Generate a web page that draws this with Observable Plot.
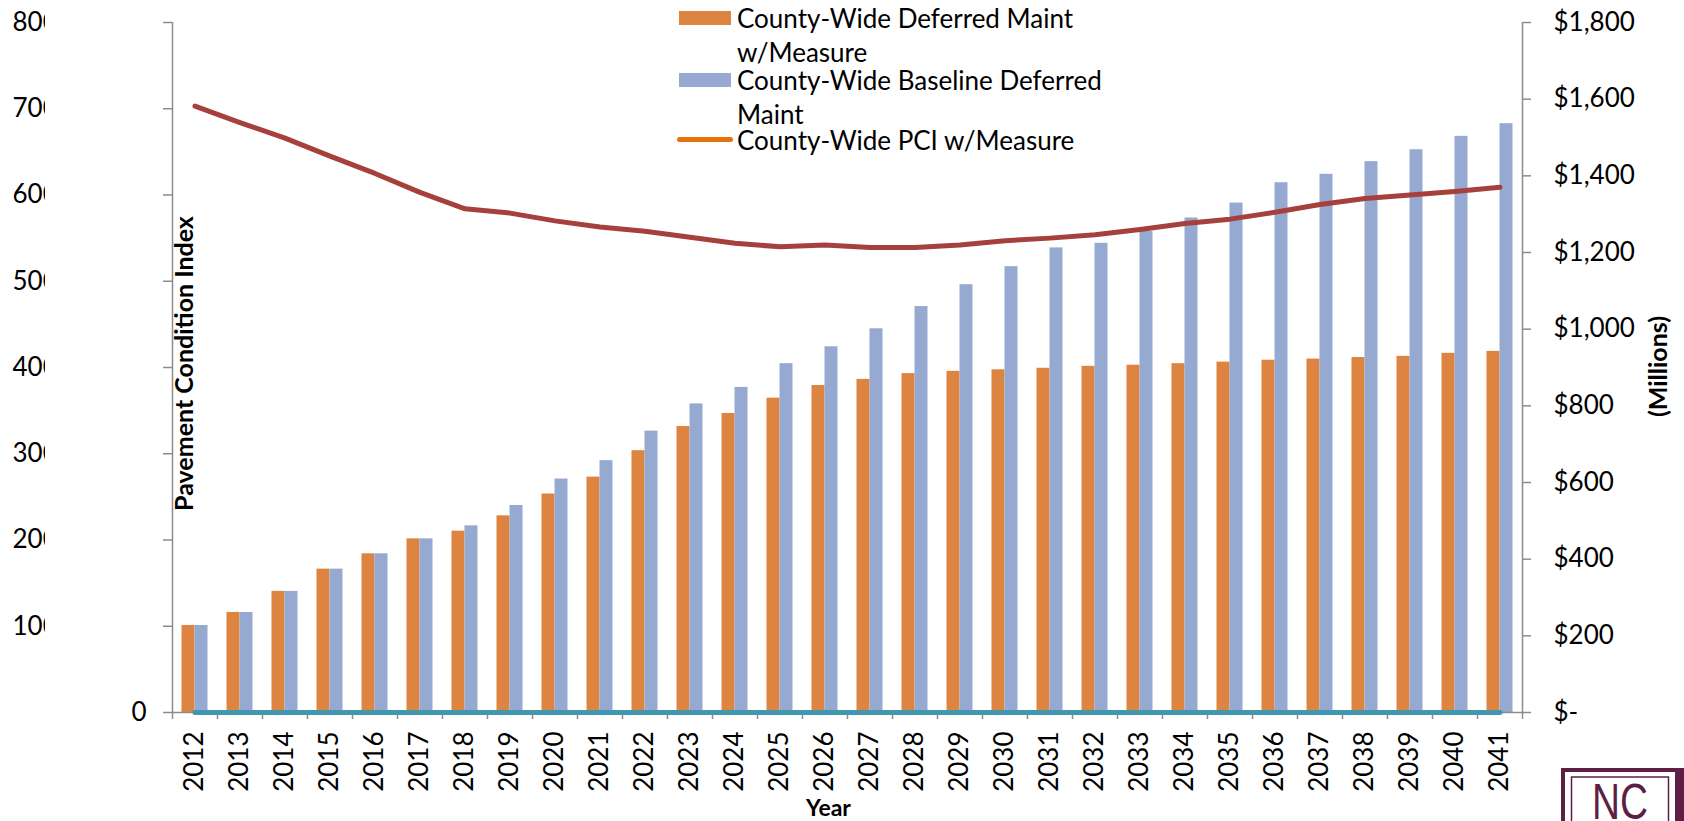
<!DOCTYPE html>
<html>
<head>
<meta charset="utf-8">
<script src="https://cdn.jsdelivr.net/npm/d3@7"></script>
<script src="https://cdn.jsdelivr.net/npm/@observablehq/plot@0.6"></script>
<style>
  html, body { margin: 0; padding: 0; background: #fff; }
  #wrap { position: relative; width: 1684px; height: 821px; overflow: hidden; font-family: Lato, "Open Sans", sans-serif; }
  #chart svg { display: block; }
  .leg { position: absolute; left: 677px; font-size: 26px; line-height: 34px; color: #000; }
  .leg .sw { position: absolute; left: 0; }
  .leg .tx { position: absolute; left: 60px; width: 400px; white-space: normal; }
  #logo { position: absolute; left: 1560px; top: 767px; }
</style>
</head>
<body>
<div id="wrap"><div id="chart"></div></div>
<script>
// ---------- data ----------
const years = ["2012","2013","2014","2015","2016","2017","2018","2019","2020","2021",
               "2022","2023","2024","2025","2026","2027","2028","2029","2030","2031",
               "2032","2033","2034","2035","2036","2037","2038","2039","2040","2041"];
// $ millions
const deferredWithMeasure = [227,261,316,374,414,453,473,513,570,614,
                             683,746,780,820,853,869,884,890,894,898,
                             903,906,910,914,919,922,926,929,937,942];
const baselineDeferred    = [227,261,316,374,414,453,487,540,609,657,
                             734,805,848,910,954,1001,1059,1116,1163,1212,
                             1224,1255,1290,1329,1382,1404,1437,1468,1503,1536];
// Pavement Condition Index (left axis)
const pciLine = [70.3,68.4,66.6,64.5,62.5,60.3,58.4,57.9,57.0,56.3,
                 55.8,55.1,54.4,54.0,54.2,53.9,53.9,54.2,54.7,55.0,
                 55.4,56.0,56.7,57.2,58.0,58.9,59.6,60.0,60.4,60.9];
const pciZeroLine = [0,0,0,0,0,0,0,0,0,0, 0,0,0,0,0,0,0,0,0,0, 0,0,0,0,0,0,0,0,0,0];

const leftTicks = [0,10,20,30,40,50,60,70,80];
const leftTickLabels = ["0","100","200","300","400","500","600","700","800"];
const rightTicks = [0,200,400,600,800,1000,1200,1400,1600,1800];
const rightTickLabels = ["$-","$200","$400","$600","$800","$1,000","$1,200","$1,400","$1,600","$1,800"];

const seriesNames = ["County-Wide Deferred Maint w/Measure", "County-Wide Baseline Deferred Maint", "County-Wide PCI w/Measure"];
const leftTitle = "Pavement Condition Index";
const rightTitle = "(Millions)";
const xTitle = "Year";
const logoText = "NC";

// ---------- colours ----------
const cOrange = "#DC8440", cBlue = "#95A9D1", cRed = "#A6403C", cTeal = "#4197AE", cLegendLine = "#E8720C", cAxis = "#8C8C8C";

// ---------- build ----------
const k = rightTicks[rightTicks.length - 1] / leftTicks[leftTicks.length - 1]; // PCI -> $ scale
const rows = years.map((y, i) => ({year: y, orange: deferredWithMeasure[i], blue: baselineDeferred[i], pci: pciLine[i], zero: pciZeroLine[i]}));
const leftLabelMap = new Map(leftTicks.map((t, i) => [t * k, leftTickLabels[i]]));
const rightLabelMap = new Map(rightTicks.map((t, i) => [t, rightTickLabels[i]]));
const FS = 26;
const TFS = 25;

const plot = Plot.plot({
  width: 1684,
  height: 821,
  marginLeft: 172,
  marginRight: 162,
  marginTop: 22,
  marginBottom: 109,
  style: {fontFamily: "Lato, 'Open Sans', sans-serif", fontSize: FS + "px", color: "#000", background: "#fff"},
  x: {type: "band", domain: years, padding: 0, axis: null},
  y: {domain: [0, rightTicks[rightTicks.length - 1]], axis: null},
  marks: [
    // bars
    Plot.barY(rows, {x: "year", y: "orange", fill: cOrange, insetLeft: 9.5, insetRight: 22.5}),
    Plot.barY(rows, {x: "year", y: "blue", fill: cBlue, insetLeft: 22.5, insetRight: 9.5}),
    // axis lines
    Plot.ruleY([0], {stroke: cAxis, strokeWidth: 1.5}),
    Plot.ruleX([years[0]], {stroke: cAxis, strokeWidth: 1.5, dx: -22.5}),
    Plot.ruleX([years[years.length - 1]], {stroke: cAxis, strokeWidth: 1.5, dx: 22.5}),
    // x ticks at band boundaries
    Plot.axisX(years, {anchor: "bottom", tickSize: 7, tickFormat: () => "", stroke: cAxis, strokeWidth: 1.5, dx: -22.5, label: null}),
    Plot.axisX([years[years.length - 1]], {anchor: "bottom", tickSize: 7, tickFormat: () => "", stroke: cAxis, strokeWidth: 1.5, dx: 22.5, label: null}),
    // x labels
    Plot.axisX(years, {anchor: "bottom", tickSize: 0, tickPadding: 19, tickRotate: -90, fontSize: FS, fill: "#000", label: null}),
    // left ticks
    Plot.axisY(leftTicks.map(t => t * k), {anchor: "left", tickSize: 9, tickFormat: () => "", stroke: cAxis, strokeWidth: 1.5, label: null}),
    // left labels (clipped later)
    Plot.axisY(leftTicks.slice(1).map(t => t * k), {anchor: "left", tickSize: 0, tickPadding: 0, textAnchor: "start", dx: -160, tickFormat: v => leftLabelMap.get(v), fontSize: FS, fill: "#000", label: null}),
    Plot.axisY([leftTicks[0] * k], {anchor: "left", tickSize: 0, tickPadding: 26, tickFormat: v => leftLabelMap.get(v), fontSize: FS, fill: "#000", label: null}),
    // right axis
    Plot.axisY(rightTicks, {anchor: "right", tickSize: 8, tickPadding: 23, tickFormat: v => rightLabelMap.get(v), stroke: cAxis, strokeWidth: 1.5, fontSize: FS, fill: "#000", label: null}),
    // lines
    Plot.line(rows, {x: "year", y: d => d.zero * k, stroke: cTeal, strokeWidth: 5, strokeLinecap: "round"}),
    Plot.line(rows, {x: "year", y: d => d.pci * k, stroke: cRed, strokeWidth: 5, strokeLinecap: "round", strokeLinejoin: "round"}),
    // axis titles
    Plot.text([leftTitle], {text: d => d, frameAnchor: "left", textAnchor: "middle", lineAnchor: "middle", rotate: -90, dx: 12.5, dy: -4, fontWeight: "bold", fontSize: TFS, fill: "#000"}),
    Plot.text([rightTitle], {text: d => d, frameAnchor: "right", textAnchor: "middle", lineAnchor: "middle", rotate: -90, dx: 136.5, dy: -1, fontWeight: "bold", fontSize: TFS, fill: "#000"}),
    Plot.text([xTitle], {text: d => d, frameAnchor: "bottom", textAnchor: "middle", lineAnchor: "middle", dx: -19, dy: 96, fontWeight: "bold", fontSize: 23, fill: "#000"})
  ]
});

document.getElementById("chart").appendChild(plot);

// clip the left tick labels as in the reference
(function () {
  const svg = d3.select(plot);
  const id = "leftclip";
  svg.append("defs").append("clipPath").attr("id", id)
    .append("rect").attr("x", 0).attr("y", 0).attr("width", 45).attr("height", 821);
  svg.selectAll('g[aria-label="y-axis tick label"]').each(function () {
    const texts = Array.from(this.querySelectorAll("text")).map(t => t.textContent);
    if (texts.includes(leftTickLabels[leftTickLabels.length - 1])) {
      const wrapper = document.createElementNS("http://www.w3.org/2000/svg", "g");
      wrapper.setAttribute("clip-path", `url(#${id})`);
      this.parentNode.insertBefore(wrapper, this);
      wrapper.appendChild(this);
    }
  });
})();

// legend
const wrap = document.getElementById("wrap");
const legendItems = [
  {name: seriesNames[0], kind: "rect", color: cOrange, top: 1},
  {name: seriesNames[1], kind: "rect", color: cBlue, top: 63},
  {name: seriesNames[2], kind: "line", color: cLegendLine, top: 123}
];
legendItems.forEach(it => {
  const d = document.createElement("div");
  d.className = "leg";
  d.style.top = it.top + "px";
  const sw = document.createElement("div");
  sw.className = "sw";
  if (it.kind === "rect") {
    sw.style.cssText = `left:2px;top:10px;width:52px;height:14px;background:${it.color};`;
  } else {
    sw.style.cssText = `left:0px;top:14px;width:56px;height:5px;border-radius:3px;background:${it.color};`;
  }
  const tx = document.createElement("div");
  tx.className = "tx";
  tx.textContent = it.name;
  d.appendChild(sw); d.appendChild(tx);
  wrap.appendChild(d);
});

// logo corner
const logo = document.createElementNS("http://www.w3.org/2000/svg", "svg");
logo.setAttribute("id", "logo");
logo.setAttribute("width", 124);
logo.setAttribute("height", 54);
logo.innerHTML = `
  <rect x="3" y="3" width="140" height="70" fill="#fff" stroke="#5E1E45" stroke-width="4"/>
  <rect x="11.5" y="10" width="97" height="70" fill="none" stroke="#5E1E45" stroke-width="1.5"/>
  <rect x="115" y="3" width="20" height="70" fill="#5E1E45"/>
  <text x="60" y="52" text-anchor="middle" font-family="Liberation Sans, sans-serif" font-size="50" fill="#5E1E45" textLength="56" lengthAdjust="spacingAndGlyphs">${logoText}</text>`;
wrap.appendChild(logo);
</script>
</body>
</html>
